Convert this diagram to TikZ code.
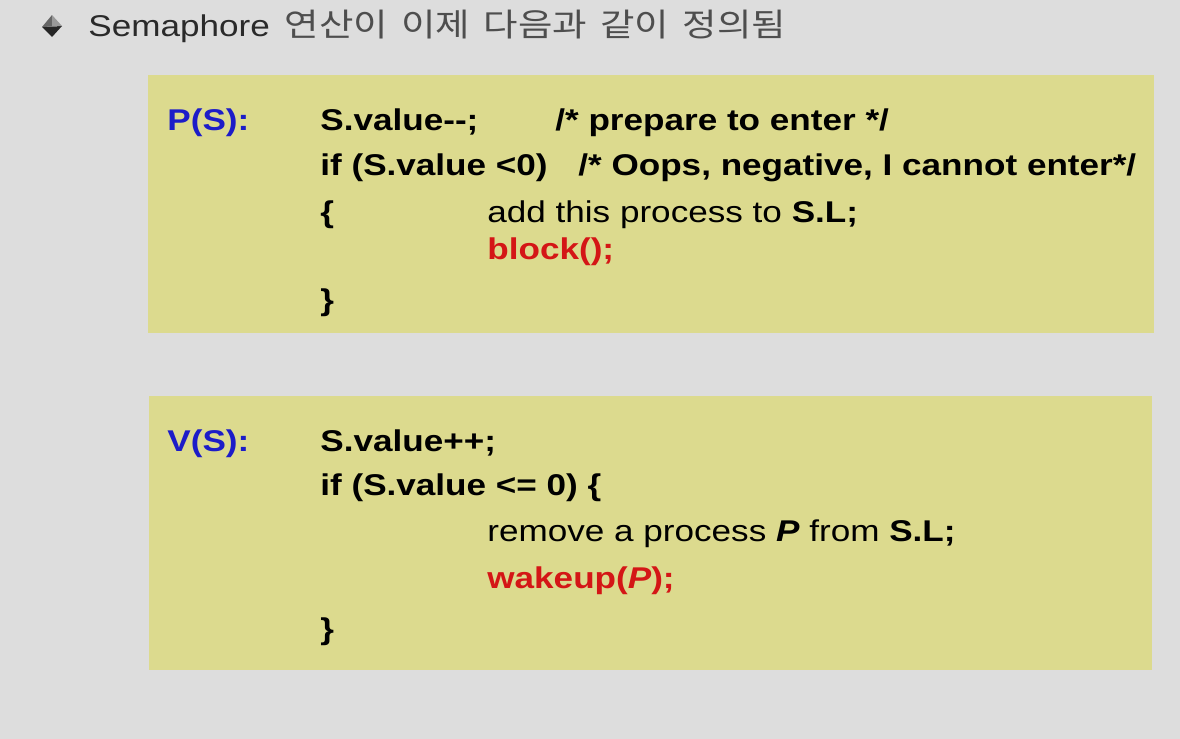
\documentclass[tikz,border=0pt]{standalone}
\usepackage{fontspec}
\setmainfont{Liberation Sans}[FakeStretch=1.17]
\newfontfamily\krfont{Noto Sans CJK KR}[FakeStretch=1.17, WordSpace=1.6]
\usetikzlibrary{positioning}
\definecolor{slidebg}{RGB}{221,221,221}
\definecolor{boxyellow}{RGB}{220,218,142}
\definecolor{opblue}{RGB}{28,28,200}
\definecolor{callred}{RGB}{212,22,22}
\definecolor{titlegray}{RGB}{42,42,42}
\definecolor{krgray}{RGB}{78,78,78}

\tikzset{
  codeline/.style={anchor=base west, inner sep=0pt, font=\fontsize{15}{18}\selectfont\bfseries},
  plainline/.style={codeline, font=\fontsize{15}{18}\selectfont\mdseries},
  opname/.style={codeline, text=opblue},
  callline/.style={codeline, text=callred}
}

\begin{document}
\begin{tikzpicture}[x=0.5pt, y=-0.5pt]
			% background and boxes
			\useasboundingbox (0,0) rectangle (1180,739);
			\fill[slidebg] (0,0) rectangle (1180,739);
			\fill[boxyellow] (148,75) rectangle (1154,333);
			\fill[boxyellow] (149,396) rectangle (1152,670);
			% draw bullet
			\fill[black!85] (42,27) -- (62,26) -- (52,37) -- cycle;
			\fill[black!60] (42,27) -- (52,15) -- (52,26.5) -- cycle;
			\fill[black!40] (52,15) -- (62,26) -- (52,26.5) -- cycle;
			% title
			\node[plainline, text=titlegray] (sem) at (88,36) {Semaphore};
			\node[plainline, text=krgray, font=\fontsize{16}{19}\selectfont\krfont, right=7pt of sem.base east, anchor=base west] (semko) {연산이 이제 다음과 같이 정의됨};
			
			% P(S)
			\node[opname] (pop) at (167,130) {P(S):};
			\node[codeline] (p1) at (320,130) {S.value-{}-;};
			\node[codeline] (p1c) at (555,130) {/* prepare to enter */};
			\node[codeline] (p2) at (320,175) {if (S.value <0)};
			\node[codeline] (p2c) at (578,175) {/* Oops, negative, I cannot enter*/};
			\node[codeline] (p3) at (320,222) {\{};
			\node[plainline] (p3b) at (487,222) {add this process to \textbf{S.L;}};
			\node[callline] (p4) at (487,259) {block();};
			\node[codeline] (p5) at (320,310) {\}};
			
			% V(S)
			\node[opname] (vop) at (167,451) {V(S):};
			\node[codeline] (v1) at (320,451) {S.value++;};
			\node[codeline] (v2) at (320,495) {if (S.value <= 0) \{};
			\node[plainline] (v3) at (487,541) {remove a process \textbf{\itshape P} from \textbf{S.L;}};
			\node[callline] (v4) at (487,588) {wakeup(\textit{P});};
			\node[codeline] (v5) at (320,639) {\}};
		\end{tikzpicture}
\end{document}
